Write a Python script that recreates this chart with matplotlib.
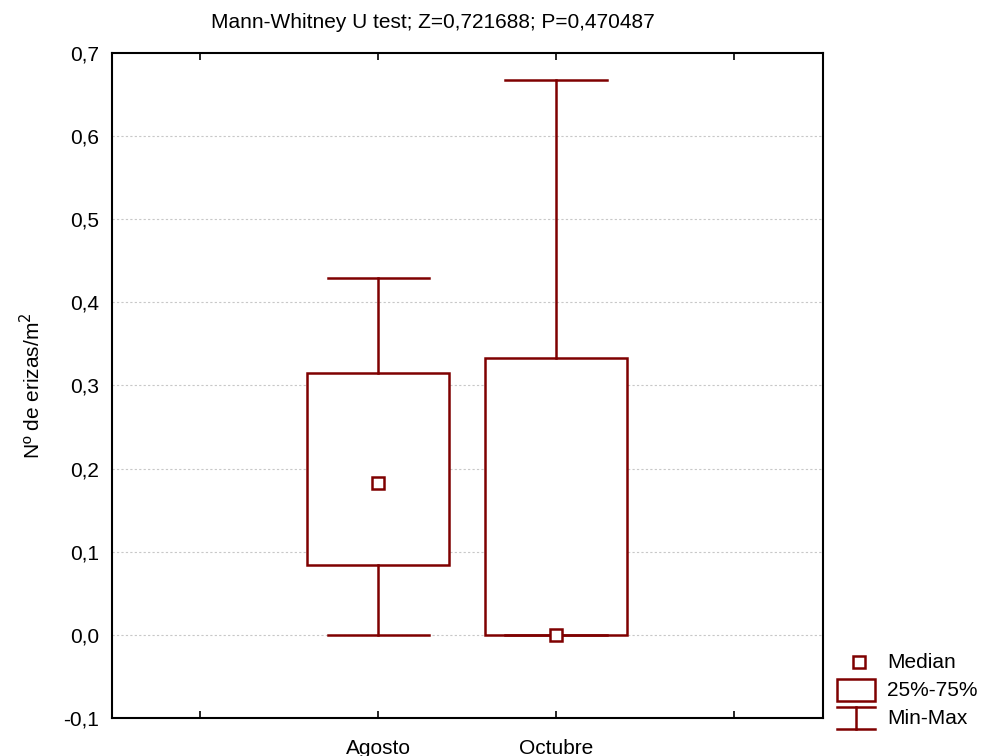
import matplotlib
matplotlib.use("Agg")
import matplotlib.pyplot as plt
from matplotlib.lines import Line2D
from matplotlib.patches import Rectangle
from matplotlib.ticker import FuncFormatter, FixedLocator

plt.rcParams["font.family"] = ["Liberation Sans", "DejaVu Sans"]

# summary values per sampling month
months = ["Agosto", "Octubre"]
mins = [0.0, 0.0]
q25 = [0.084, 0.0]
medians = [0.183, 0.0]
q75 = [0.315, 0.333]
maxs = [0.429, 0.667]

title = "Mann-Whitney U test; Z=0,721688; P=0,470487"
dark_red = "#7f0000"
fs = 15

fig = plt.figure(figsize=(9.83, 7.56), dpi=100)
ax = fig.add_axes([0.1135, 0.0503, 0.7233, 0.8796])

stats = []
for name, lo, a, m, b, hi in zip(months, mins, q25, medians, q75, maxs):
    stats.append({"label": name, "whislo": lo, "q1": a, "med": m,
                  "q3": b, "whishi": hi, "mean": m})

positions = [1, 2]
ax.bxp(stats, positions=positions, widths=0.8, capwidths=0.57,
       patch_artist=True, showmeans=True, showfliers=False,
       boxprops=dict(facecolor="white", edgecolor=dark_red, linewidth=1.8),
       whiskerprops=dict(color=dark_red, linewidth=1.8),
       capprops=dict(color=dark_red, linewidth=1.8),
       medianprops=dict(linewidth=0),
       meanprops=dict(marker="s", markerfacecolor="white",
                      markeredgecolor=dark_red, markersize=8.5,
                      markeredgewidth=1.8),
       zorder=3)

ax.set_xlim(-0.5, 3.5)
ax.set_ylim(-0.1, 0.7)
ax.xaxis.set_major_locator(FixedLocator([0, 1, 2, 3]))
ax.set_xticklabels(["", "Agosto", "Octubre", ""])
ax.set_yticks([-0.1, 0.0, 0.1, 0.2, 0.3, 0.4, 0.5, 0.6, 0.7])
ax.yaxis.set_major_formatter(FuncFormatter(lambda v, p: f"{v:.1f}".replace(".", ",")))

ax.tick_params(axis="x", direction="in", length=5, width=1.2, top=True,
               labelsize=fs, pad=15)
ax.tick_params(axis="y", length=0, labelsize=fs, pad=9)
for s in ax.spines.values():
    s.set_linewidth(1.5)

for y in [0.0, 0.1, 0.2, 0.3, 0.4, 0.5, 0.6]:
    ax.axhline(y, color="#c8c8c8", linestyle=(0, (2, 2)), linewidth=0.8, zorder=1)

ax.set_ylabel("Nº de erizas/m$^2$", fontsize=fs, labelpad=14)
fig.text(0.44, 0.97, title, ha="center", va="center", fontsize=fs)

# legend drawn in pixel space at the lower right
lg = fig.add_axes([0, 0, 1, 1], facecolor="none")
lg.set_xlim(0, 983)
lg.set_ylim(756, 0)
lg.axis("off")
lg.add_line(Line2D([859], [662], marker="s", markersize=8.5, markerfacecolor="white",
                   markeredgecolor=dark_red, markeredgewidth=1.8))
lg.add_patch(Rectangle((837, 679), 38, 22, facecolor="white", edgecolor=dark_red,
                       linewidth=1.8))
lg.add_line(Line2D([837, 875], [707, 707], color=dark_red, linewidth=1.8))
lg.add_line(Line2D([837, 875], [729, 729], color=dark_red, linewidth=1.8))
lg.add_line(Line2D([856, 856], [707, 729], color=dark_red, linewidth=1.8))
for yy, txt in zip([662, 690, 718], ["Median", "25%-75%", "Min-Max"]):
    lg.text(887, yy, txt, fontsize=fs, va="center", ha="left")

fig.savefig("out.png", dpi=100)
